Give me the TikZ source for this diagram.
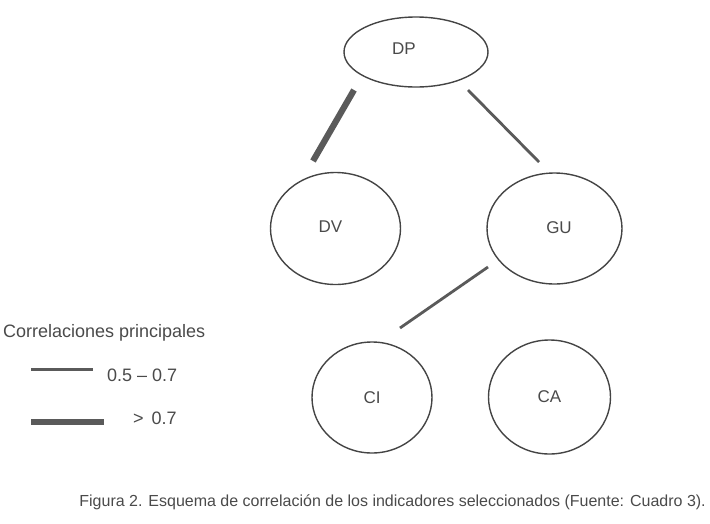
\documentclass[tikz,border=0pt]{standalone}
\usepackage{fontspec}
\setmainfont{Liberation Sans}
\usetikzlibrary{shapes.geometric,calc}
\definecolor{ink}{HTML}{444444}
\definecolor{linegray}{HTML}{5A5A5A}
\definecolor{txt}{HTML}{4A4A4A}
\begin{document}
\begin{tikzpicture}[x=1pt,y=-1pt,
  oval/.style={draw=ink,line width=1.4pt,ellipse,inner sep=0pt},
  lab/.style={font=\fontsize{17}{20}\selectfont,text=txt},
  weak/.style={draw=linegray,line width=2.8pt,line cap=butt},
  strong/.style={draw=linegray,line width=6.2pt,line cap=butt},
  legtext/.style={font=\fontsize{18}{21}\selectfont,text=txt,anchor=base west,inner sep=0pt}]
\useasboundingbox (0,0) rectangle (710,523);
% nodes
\node[oval,minimum width=144pt,minimum height=70pt,
      label={[lab,xshift=-12pt,yshift=3.5pt]center:DP}] (dp) at (416,52) {};
\node[oval,minimum width=130pt,minimum height=112pt,
      label={[lab,xshift=-5pt,yshift=2pt]center:DV}] (dv) at (335.5,228.5) {};
\node[oval,minimum width=135pt,minimum height=111pt,
      label={[lab,xshift=4.5pt,yshift=1pt]center:GU}] (gu) at (554.5,228.5) {};
\node[oval,minimum width=120pt,minimum height=111pt,
      label={[lab]center:CI}] (ci) at (372,397.5) {};
\node[oval,minimum width=122pt,minimum height=114pt,
      label={[lab]center:CA}] (ca) at (549.5,397) {};
% connectors
\draw[strong] ($(dp)+(-62,38)$) -- ($(dv)+(-22.5,-67.5)$);
\draw[weak] ($(dp)+(52,38)$) -- ($(gu)+(-15.5,-66.5)$);
\draw[weak] ($(gu)+(-66.5,38.5)$) -- ($(ci)+(28,-69.5)$);
% legend
\node[legtext] (legtitle) at (3,337) {Correlaciones principales};
\coordinate (la) at (31,369);
\coordinate (lb) at (93,369);
\draw[weak,line width=3pt] (la) -- (lb);
\node[legtext] (legweak) at (107,381) {0.5 – 0.7};
\coordinate (lc) at (31,422);
\coordinate (ld) at (104,422);
\draw[strong,line width=6.5pt] (lc) -- (ld);
\node[legtext] (legstrong) at (133,424) {>\, 0.7};
% caption
\node[anchor=base east,inner sep=0pt,font=\fontsize{16}{19}\selectfont,text=txt] (caption) at (706,506)
  {Figura 2. Esquema de correlación de los indicadores seleccionados (Fuente: Cuadro 3).};
\end{tikzpicture}
\end{document}
